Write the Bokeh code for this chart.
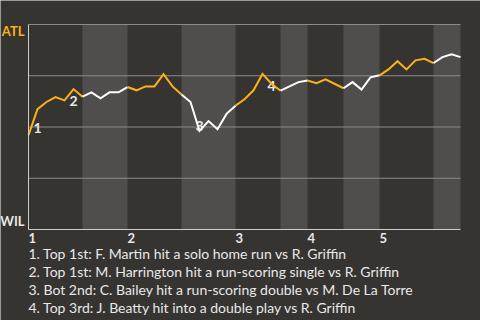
from bokeh.plotting import figure
from bokeh.models import Range1d
from bokeh.core.properties import value
from bokeh.embed import file_html
from bokeh.resources import INLINE

# ATL win probability after each play of the game (play index 0 .. 48)
atl_win_prob = [
    0.460, 0.587, 0.622, 0.646, 0.630, 0.685, 0.648, 0.669, 0.640, 0.669,
    0.669, 0.695, 0.679, 0.698, 0.698, 0.758, 0.698, 0.659, 0.622, 0.481,
    0.529, 0.489, 0.564, 0.604, 0.635, 0.679, 0.759, 0.711, 0.677, 0.698,
    0.719, 0.727, 0.714, 0.732, 0.711, 0.689, 0.719, 0.683, 0.742, 0.752,
    0.781, 0.821, 0.781, 0.825, 0.833, 0.812, 0.841, 0.855, 0.841,
]

# first play of every half-inning (top 1, bot 1, top 2, ...)
half_inning_starts = [0, 6, 11, 17, 23, 28, 31, 35, 39, 45]
last_play = 48

inning_labels = ["1", "2", "3", "4", "5"]
inning_start_plays = [0, 11, 23, 31, 39]

away_team = "ATL"
home_team = "WIL"

grid_levels = [0.25, 0.5, 0.75, 1.0]

event_numbers = ["1", "2", "3", "4"]
event_plays = [1, 5, 19, 27]
event_texts = [
    "1. Top 1st: F. Martin hit a solo home run vs R. Griffin",
    "2. Top 1st: M. Harrington hit a run-scoring single vs R. Griffin",
    "3. Bot 2nd: C. Bailey hit a run-scoring double vs M. De La Torre",
    "4. Top 3rd: J. Beatty hit into a double play vs R. Griffin",
]

BG = "#363431"
BAND = "#4f4e4c"
GRID = "#8b8a87"
AXIS = "#cfcecb"
ORANGE = "#fbb117"
WHITE = "#ffffff"
TEXT = "#e8e8e8"
FONT = value("Lato")

# chart box inside the 480x320 canvas (pixels)
W, H = 480, 320
LEFT, TOP, BOTTOM = 28, 24, 229
px_per_play = 9.0
px_per_unit = BOTTOM - TOP

p = figure(
    width=W, height=H, min_border=0,
    x_range=Range1d(-LEFT / px_per_play, (W - LEFT) / px_per_play),
    y_range=Range1d(-(H - BOTTOM) / px_per_unit, BOTTOM / px_per_unit),
    output_backend="svg", toolbar_location=None,
    background_fill_color=BG, border_fill_color=BG, outline_line_color=None,
)
p.axis.visible = False
p.grid.visible = False

# shaded columns for the bottom halves of each inning
bounds = half_inning_starts + [last_play]
bot_left = [bounds[i] for i in range(1, len(bounds) - 1, 2)]
bot_right = [bounds[i + 1] for i in range(1, len(bounds) - 1, 2)]
p.quad(left=bot_left, right=bot_right, bottom=0, top=1,
       fill_color=BAND, line_color=None)

# horizontal guides
p.segment(x0=0, x1=last_play, y0=grid_levels, y1=grid_levels,
          line_color=GRID, line_width=1)

# event markers sit under the line
ev_y = [atl_win_prob[i] for i in event_plays]
ev_shift = [19, 12, -5, 2]
p.text(x=event_plays, y=ev_y, text=event_numbers, y_offset=ev_shift,
       text_align="center", text_baseline="alphabetic",
       text_font=FONT, text_font_style="bold", text_font_size="14px",
       text_color=TEXT)

# win-probability line, orange while ATL bats, white while WIL bats
xs, ys, cols = [], [], []
for k in range(len(half_inning_starts)):
    a = bounds[k]
    b = bounds[k + 1]
    xs.append(list(range(a, b + 1)))
    ys.append(atl_win_prob[a:b + 1])
    cols.append(ORANGE if k % 2 == 0 else WHITE)
p.multi_line(xs=xs, ys=ys, line_color=cols, line_width=2, line_join="miter")

# axis lines
p.segment(x0=[0, 0], y0=[0, 0], x1=[last_play, 0], y1=[0, 1],
          line_color=AXIS, line_width=1)

# inning numbers under the x axis
p.text(x=inning_start_plays, y=0, text=inning_labels, y_offset=8,
       text_align="left", text_baseline="alphabetic",
       text_font=FONT, text_font_style="bold", text_font_size="13px",
       text_color=TEXT)

# team names at the ends of the probability scale
p.text(x=[0, 0], y=[1, 0], text=[away_team, home_team],
       x_offset=-4, y_offset=[6, -9],
       text_align="right", text_baseline="alphabetic",
       text_font=FONT, text_font_style="bold", text_font_size="13px",
       text_color=[ORANGE, TEXT])

# notes for the numbered events
p.text(x=0, y=0, text=event_texts, y_offset=[24 + 18 * i for i in range(len(event_texts))],
       text_align="left", text_baseline="alphabetic",
       text_font=FONT, text_font_size="14px", text_color=TEXT)

open("out.html", "w").write(file_html(p, INLINE))
